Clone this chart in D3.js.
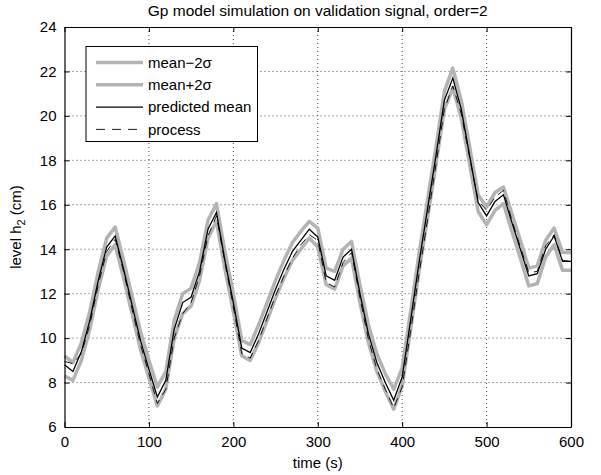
<!DOCTYPE html>
<html>
<head>
<meta charset="utf-8">
<script src="https://cdn.jsdelivr.net/npm/d3@7"></script>
<style>
  html, body { margin: 0; padding: 0; background: #fff; }
  svg { display: block; font-family: "Liberation Sans", Arial, Helvetica, sans-serif; }
</style>
</head>
<body>
<svg id="chart" width="601" height="475"></svg>
<script>
const time = [0,10,20,30,40,50,60,70,80,90,100,110,120,130,140,150,160,170,180,190,200,210,220,230,240,250,260,270,280,290,300,310,320,330,340,350,360,370,380,390,400,410,420,430,440,450,460,470,480,490,500,510,520,530,540,550,560,570,580,590,600];

const predictedMean = [8.8,8.5,9.4,10.8,12.6,14.1,14.6,13.1,11.5,9.9,8.6,7.35,8.1,10.4,11.6,11.85,13.0,14.9,15.65,13.5,11.6,9.55,9.35,10.2,11.2,12.2,13.1,13.9,14.4,14.9,14.55,12.8,12.6,13.65,14.0,12.0,10.2,8.9,8.0,7.2,8.25,10.8,13.4,15.8,18.2,20.7,21.7,20.3,18.2,16.1,15.5,16.15,16.45,15.2,14.0,12.8,12.9,14.0,14.6,13.45,13.45];

const meanPlus2s = [9.2,8.9,9.8,11.2,13.0,14.5,15.0,13.5,11.9,10.3,9.0,7.8,8.5,10.8,12.0,12.25,13.4,15.3,16.05,13.9,12.0,9.9,9.7,10.6,11.6,12.6,13.5,14.3,14.8,15.25,14.95,13.15,13.0,14.0,14.35,12.4,10.6,9.3,8.4,7.7,8.65,11.2,13.8,16.2,18.6,21.1,22.15,20.7,18.6,16.45,15.9,16.55,16.8,15.6,14.4,13.15,13.25,14.4,14.95,13.85,13.85];

const meanMinus2s = [8.3,8.1,9.0,10.4,12.2,13.7,14.2,12.7,11.1,9.5,8.2,6.95,7.7,10.0,11.1,11.45,12.6,14.5,15.25,13.1,11.2,9.2,9.0,9.8,10.8,11.8,12.7,13.5,14.0,14.5,14.1,12.4,12.2,13.25,13.6,11.6,9.8,8.5,7.6,6.8,7.85,10.4,13.0,15.4,17.8,20.3,21.25,19.9,17.8,15.7,15.1,15.75,16.05,14.8,13.6,12.35,12.45,13.65,14.2,13.05,13.05];

const processOut = [8.95,8.85,9.3,10.6,12.4,13.9,14.45,13.0,11.3,9.7,8.4,7.05,7.7,10.0,11.1,11.6,12.8,14.6,15.5,13.4,11.4,9.3,9.1,9.9,10.9,11.9,12.8,13.6,14.2,14.65,14.4,12.5,12.3,13.4,13.85,11.8,9.95,8.6,7.7,6.85,7.8,10.3,12.9,15.3,17.8,20.3,21.35,20.1,18.1,16.2,15.75,16.35,16.65,15.3,14.1,12.95,13.0,14.15,14.65,13.5,13.45];

const xTicks = [0,100,200,300,400,500,600];
const yTicks = [6,8,10,12,14,16,18,20,22,24];
const legendLabels = ["mean\u22122\u03c3","mean+2\u03c3","predicted mean","process"];
const titleText = "Gp model simulation on validation signal, order=2";
const xLabel = "time (s)";

const svg = d3.select("#chart");
const L = 64.5, R = 571, T = 27, B = 427;
const x = d3.scaleLinear().domain([0,600]).range([L,R]);
const y = d3.scaleLinear().domain([6,24]).range([B,T]);

const grey = "#b3b3b3";
const FS = 15;

// grid
const grid = svg.append("g");
grid.selectAll("line.gx").data(xTicks.slice(1,-1)).join("line")
  .attr("x1", d=>x(d)).attr("x2", d=>x(d)).attr("y1", T).attr("y2", B)
  .attr("stroke", "#000").attr("stroke-width", 0.7).attr("stroke-dasharray", "1,3");
grid.selectAll("line.gy").data(yTicks.slice(1,-1)).join("line")
  .attr("y1", d=>y(d)).attr("y2", d=>y(d)).attr("x1", L).attr("x2", R)
  .attr("stroke", "#000").attr("stroke-width", 0.7).attr("stroke-dasharray", "1,3");

// series
const mk = arr => d3.line().x((d,i)=>x(time[i])).y(d=>y(d))(arr);
const plot = svg.append("g");
plot.append("path").attr("d", mk(meanMinus2s)).attr("fill","none").attr("stroke",grey).attr("stroke-width",3.5).attr("stroke-linejoin","round");
plot.append("path").attr("d", mk(meanPlus2s)).attr("fill","none").attr("stroke",grey).attr("stroke-width",3.5).attr("stroke-linejoin","round");
plot.append("path").attr("d", mk(predictedMean)).attr("fill","none").attr("stroke","#000").attr("stroke-width",1.3);
plot.append("path").attr("d", mk(processOut)).attr("fill","none").attr("stroke","#000").attr("stroke-width",0.9).attr("stroke-dasharray","8,6");

// axes with inside ticks
const axB = svg.append("g").attr("transform",`translate(0,${B})`)
  .call(d3.axisBottom(x).tickValues(xTicks).tickSizeInner(-5).tickSizeOuter(0).tickPadding(8));
const axT = svg.append("g").attr("transform",`translate(0,${T})`)
  .call(d3.axisTop(x).tickValues(xTicks).tickSizeInner(-5).tickSizeOuter(0).tickFormat(""));
const axL = svg.append("g").attr("transform",`translate(${L},0)`)
  .call(d3.axisLeft(y).tickValues(yTicks).tickSizeInner(-5).tickSizeOuter(0).tickPadding(8));
const axR = svg.append("g").attr("transform",`translate(${R},0)`)
  .call(d3.axisRight(y).tickValues(yTicks).tickSizeInner(-5).tickSizeOuter(0).tickFormat(""));
[axB,axT,axL,axR].forEach(a=>{
  a.select(".domain").attr("stroke","#000").attr("stroke-width",1.2);
  a.selectAll(".tick line").attr("stroke","#000").attr("stroke-width",1);
  a.selectAll("text").attr("font-size",FS).attr("fill","#000")
   .attr("font-family","'Liberation Sans', Arial, sans-serif");
});
axB.selectAll(".tick text").attr("dy","0.8em");

// title
svg.append("text").attr("x",(L+R)/2).attr("y",16).attr("text-anchor","middle")
  .attr("font-size",15.5).text(titleText);
// x label
svg.append("text").attr("x",(L+R)/2).attr("y",468).attr("text-anchor","middle")
  .attr("font-size",FS).text(xLabel);
// y label
const yl = svg.append("text").attr("transform",`translate(21,${(T+B)/2}) rotate(-90)`)
  .attr("text-anchor","middle").attr("font-size",FS);
yl.append("tspan").text("level h");
yl.append("tspan").attr("font-size",11).attr("dy",4).text("2");
yl.append("tspan").attr("dy",-4).text(" (cm)");

// legend
const lg = svg.append("g");
lg.append("rect").attr("x",86).attr("y",46.5).attr("width",171.5).attr("height",95)
  .attr("fill","#fff").attr("stroke","#000").attr("stroke-width",1);
const styles = [
  {stroke:grey, w:3.5, dash:null},
  {stroke:grey, w:3.5, dash:null},
  {stroke:"#000", w:1.3, dash:null},
  {stroke:"#000", w:0.9, dash:"9,7"}
];
legendLabels.forEach((lab,i)=>{
  const cy = 62.5 + i*22.3;
  lg.append("line").attr("x1",96).attr("x2",143).attr("y1",cy).attr("y2",cy)
    .attr("stroke",styles[i].stroke).attr("stroke-width",styles[i].w)
    .attr("stroke-dasharray",styles[i].dash);
  lg.append("text").attr("x",148).attr("y",cy).attr("dy","0.35em")
    .attr("font-size",FS).text(lab);
});
</script>
</body>
</html>
